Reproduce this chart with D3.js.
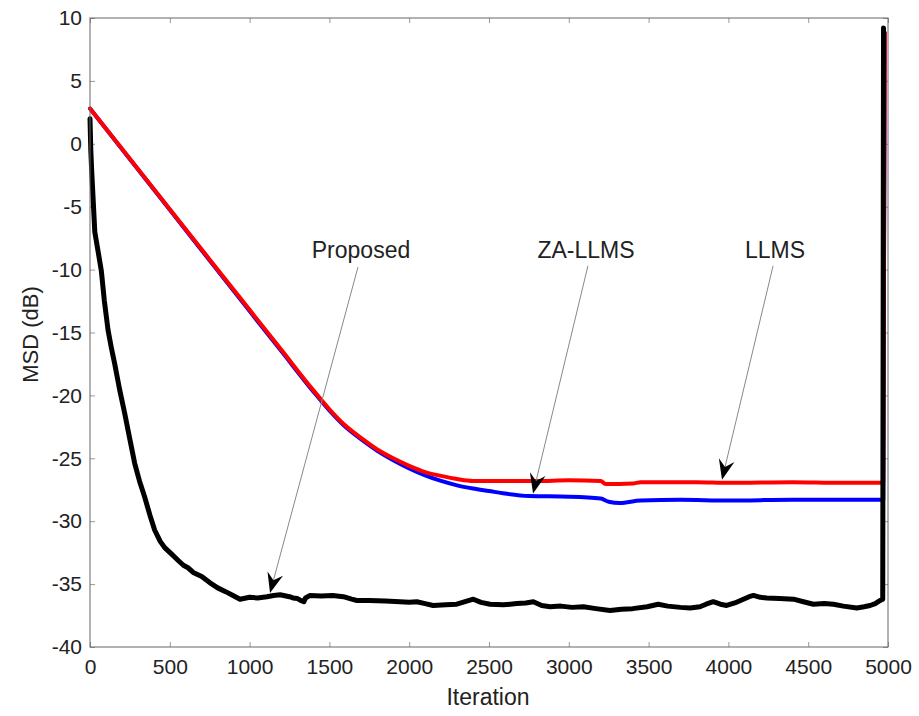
<!DOCTYPE html>
<html>
<head>
<meta charset="utf-8">
<script src="https://cdn.jsdelivr.net/npm/d3@7"></script>
<style>
  html, body { margin: 0; padding: 0; background: #fff; }
  svg { display: block; font-family: "Liberation Sans", Arial, Helvetica, sans-serif; }
</style>
</head>
<body>
<svg id="chart" width="919" height="716"></svg>
<script>
// ---- data (iteration, MSD dB) ----
const llmsIter = [0, 500, 1000, 1200, 1400, 1500, 1600, 1700, 1800, 1900, 2000, 2100, 2200, 2300, 2400, 2600, 2800, 3000, 3200, 3230, 3400, 3450, 3800, 4000, 4400, 4700, 4970, 4980];
const llmsMSD  = [2.8, -5.2, -13.2, -16.4, -19.6, -21.1, -22.4, -23.4, -24.3, -25.0, -25.6, -26.1, -26.4, -26.65, -26.8, -26.8, -26.8, -26.75, -26.8, -27.05, -27.0, -26.9, -26.9, -26.95, -26.9, -26.95, -26.95, 8.8];

const zaIter = [0, 500, 1000, 1200, 1400, 1500, 1600, 1700, 1800, 1900, 2000, 2100, 2200, 2300, 2400, 2500, 2600, 2750, 3000, 3200, 3250, 3320, 3450, 3700, 4000, 4400, 4700, 4970, 4980];
const zaMSD  = [2.8, -5.25, -13.3, -16.5, -19.7, -21.2, -22.5, -23.5, -24.4, -25.15, -25.8, -26.35, -26.8, -27.15, -27.4, -27.6, -27.8, -28.0, -28.05, -28.2, -28.45, -28.55, -28.35, -28.3, -28.35, -28.3, -28.3, -28.3, 8.8];

const propIter = [0, 5, 10, 20, 30, 50, 71, 90, 113, 135, 155, 185, 217, 250, 280, 310, 343, 375, 405, 440, 468, 510, 551, 585, 614, 650, 700, 752, 800, 850, 896, 940, 1000, 1050, 1109, 1150, 1191, 1250, 1272, 1300, 1320, 1340, 1350, 1379, 1450, 1520, 1587, 1640, 1672, 1750, 1850, 1942, 2000, 2048, 2100, 2150, 2230, 2298, 2350, 2402, 2450, 2507, 2590, 2674, 2730, 2778, 2830, 2883, 2950, 3020, 3092, 3170, 3258, 3330, 3400, 3491, 3560, 3620, 3700, 3760, 3822, 3860, 3905, 3950, 3989, 4040, 4094, 4130, 4157, 4200, 4241, 4320, 4408, 4470, 4533, 4600, 4658, 4720, 4805, 4850, 4888, 4920, 4951, 4967, 4972];
const propMSD  = [2.0, -0.5, -2, -4.5, -7, -8.5, -10.1, -12.5, -14.8, -16.3, -17.5, -19.5, -21.4, -23.5, -25.4, -26.8, -28.1, -29.5, -30.7, -31.6, -32.1, -32.6, -33.1, -33.5, -33.7, -34.1, -34.4, -34.9, -35.3, -35.6, -35.9, -36.2, -36.05, -36.1, -36.0, -35.9, -35.85, -36.0, -36.1, -36.15, -36.3, -36.4, -36.1, -35.9, -35.95, -35.9, -36.0, -36.2, -36.3, -36.3, -36.35, -36.4, -36.45, -36.4, -36.55, -36.7, -36.65, -36.6, -36.4, -36.2, -36.45, -36.6, -36.65, -36.55, -36.5, -36.4, -36.7, -36.8, -36.75, -36.85, -36.8, -36.95, -37.1, -37.0, -36.95, -36.8, -36.6, -36.75, -36.85, -36.9, -36.8, -36.6, -36.4, -36.6, -36.7, -36.5, -36.2, -36.0, -35.9, -36.05, -36.1, -36.15, -36.2, -36.4, -36.6, -36.55, -36.6, -36.75, -36.9, -36.8, -36.7, -36.55, -36.3, -36.2, 9.2];

const xTicks = [0, 500, 1000, 1500, 2000, 2500, 3000, 3500, 4000, 4500, 5000];
const yTicks = [10, 5, 0, -5, -10, -15, -20, -25, -30, -35, -40];

// annotations: label, text position, line start, arrow tip (data units)
const annLabels = ["Proposed", "ZA-LLMS", "LLMS"];
const annTextX  = [1698, 3108, 4292];
const annTextY  = [-8.6, -8.6, -8.6];
const annFromX  = [1679, 3120, 4280];
const annFromY  = [-9.8, -9.7, -9.7];
const annTipX   = [1128, 2776, 3960];
const annTipY   = [-35.7, -27.8, -26.7];

// ---- layout ----
const W = 919, H = 716;
const m = { left: 90, right: 31, top: 18, bottom: 69 };
const iw = W - m.left - m.right, ih = H - m.top - m.bottom;

const svg = d3.select("#chart");
svg.append("rect").attr("width", W).attr("height", H).attr("fill", "#fff");
const g = svg.append("g").attr("transform", `translate(${m.left},${m.top})`);

const x = d3.scaleLinear().domain([0, 5000]).range([0, iw]);
const y = d3.scaleLinear().domain([-40, 10]).range([ih, 0]);

const tickColor = "#999";
const fontSize = 21;
const fmt = d => String(d);

// bottom axis
const gx = g.append("g").attr("transform", `translate(0,${ih})`)
  .call(d3.axisBottom(x).tickValues(xTicks).tickFormat(fmt).tickSizeInner(-5).tickSizeOuter(0).tickPadding(12));
// left axis
const gy = g.append("g")
  .call(d3.axisLeft(y).tickValues(yTicks).tickFormat(fmt).tickSizeInner(-5).tickSizeOuter(0).tickPadding(8));
// top & right ticks
const gt = g.append("g")
  .call(d3.axisTop(x).tickValues(xTicks).tickFormat("").tickSizeInner(-5).tickSizeOuter(0));
const gr = g.append("g").attr("transform", `translate(${iw},0)`)
  .call(d3.axisRight(y).tickValues(yTicks).tickFormat("").tickSizeInner(-5).tickSizeOuter(0));

[gx, gy, gt, gr].forEach(a => {
  a.select(".domain").remove();
  a.selectAll(".tick line").attr("stroke", tickColor).attr("stroke-width", 1);
  a.selectAll(".tick text").attr("fill", "#222").style("font-size", fontSize + "px")
    .style("font-family", "'Liberation Sans', Arial, Helvetica, sans-serif");
});

// lines
const smooth = d3.line().curve(d3.curveMonotoneX).x(d => x(d[0])).y(d => y(d[1]));
const straight = d3.line().x(d => x(d[0])).y(d => y(d[1]));
const series = [
  { xs: zaIter, ys: zaMSD, color: "#0000ff", w: 4, gen: smooth },
  { xs: llmsIter, ys: llmsMSD, color: "#ff0000", w: 4, gen: smooth },
  { xs: propIter, ys: propMSD, color: "#000000", w: 5, gen: straight }
];
series.forEach(s => {
  const pts = s.xs.map((v, i) => [v, s.ys[i]]);
  g.append("path").datum(pts).attr("d", s.gen)
    .attr("fill", "none").attr("stroke", s.color).attr("stroke-width", s.w)
    .attr("stroke-linejoin", "round").attr("stroke-linecap", "round");
});

// frame
g.append("rect").attr("x", 0).attr("y", 0).attr("width", iw).attr("height", ih)
  .attr("fill", "none").attr("stroke", "#666").attr("stroke-width", 1);

// annotations
annLabels.forEach((lab, i) => {
  const x0 = x(annFromX[i]), y0 = y(annFromY[i]);
  const x1 = x(annTipX[i]), y1 = y(annTipY[i]);
  const dx = x1 - x0, dy = y1 - y0, L = Math.hypot(dx, dy);
  const ux = dx / L, uy = dy / L, px = -uy, py = ux;
  const len = 20, hw = 8, notch = 13;
  g.append("line").attr("x1", x0).attr("y1", y0)
    .attr("x2", x1 - ux * notch).attr("y2", y1 - uy * notch)
    .attr("stroke", "#888").attr("stroke-width", 1);
  const bx = x1 - ux * len, by = y1 - uy * len;
  const nx = x1 - ux * notch, ny = y1 - uy * notch;
  const pts = [[x1, y1], [bx + px * hw, by + py * hw], [nx, ny], [bx - px * hw, by - py * hw]];
  g.append("polygon").attr("points", pts.map(p => p.join(",")).join(" ")).attr("fill", "#000");
  g.append("text").attr("x", x(annTextX[i])).attr("y", y(annTextY[i]))
    .attr("text-anchor", "middle").attr("dominant-baseline", "middle")
    .style("font-size", "23px").attr("fill", "#222").text(lab);
});

// axis labels
svg.append("text").attr("x", m.left + iw / 2 - 1).attr("y", 705)
  .attr("text-anchor", "middle").style("font-size", "23px").attr("fill", "#222").text("Iteration");
svg.append("text").attr("transform", `translate(38,${m.top + ih / 2 + 2}) rotate(-90)`)
  .attr("text-anchor", "middle").style("font-size", "22px").attr("fill", "#222").text("MSD (dB)");
</script>
</body>
</html>
